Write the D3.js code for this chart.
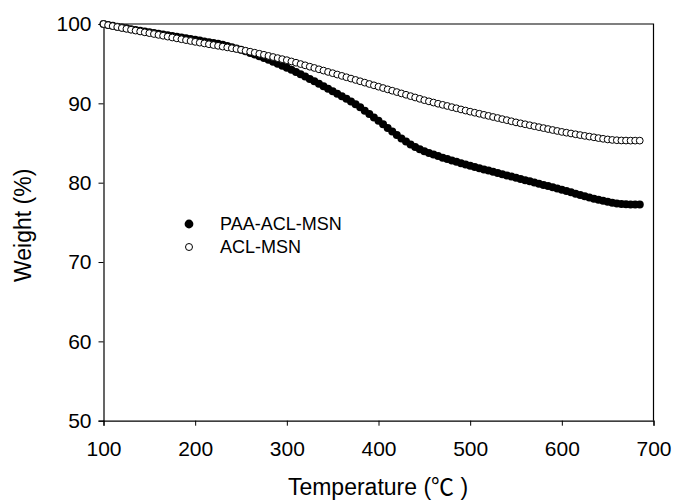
<!DOCTYPE html>
<html>
<head>
<meta charset="utf-8">
<script src="https://cdn.jsdelivr.net/npm/d3@7"></script>
<style>
  body { margin: 0; background: #fff; }
  text { font-family: "Liberation Sans", Arial, "Noto Sans CJK SC", sans-serif; fill: #000; }
</style>
</head>
<body>
<svg id="chart" width="674" height="502"></svg>
<script>
// temperature (°C) readings, every 5 degrees
const temperature = [
  100,105,110,115,120,125,130,135,140,145,150,155,160,165,170,175,180,185,190,195,
  200,205,210,215,220,225,230,235,240,245,250,255,260,265,270,275,280,285,290,295,
  300,305,310,315,320,325,330,335,340,345,350,355,360,365,370,375,380,385,390,395,
  400,405,410,415,420,425,430,435,440,445,450,455,460,465,470,475,480,485,490,495,
  500,505,510,515,520,525,530,535,540,545,550,555,560,565,570,575,580,585,590,595,
  600,605,610,615,620,625,630,635,640,645,650,655,660,665,670,675,680,685
]

// weight (%) of PAA-ACL-MSN (filled)
const paaAclMsn = [
  100.00,99.88,99.77,99.66,99.55,99.45,99.35,99.25,99.15,99.05,98.95,98.86,98.77,98.68,98.59,98.50,98.40,98.30,98.20,98.10,
  98.00,97.91,97.81,97.71,97.61,97.50,97.37,97.22,97.07,96.91,96.75,96.55,96.35,96.15,95.94,95.72,95.49,95.25,95.00,94.74,
  94.48,94.22,93.95,93.66,93.37,93.07,92.77,92.46,92.15,91.84,91.53,91.21,90.89,90.57,90.24,89.90,89.50,89.08,88.66,88.23,
  87.80,87.35,86.90,86.45,86.00,85.58,85.18,84.82,84.50,84.20,83.95,83.74,83.55,83.35,83.15,82.97,82.80,82.63,82.46,82.29,
  82.12,81.97,81.82,81.67,81.52,81.37,81.22,81.07,80.92,80.77,80.62,80.47,80.32,80.17,80.02,79.87,79.72,79.57,79.42,79.27,
  79.12,78.95,78.78,78.61,78.45,78.30,78.14,77.99,77.85,77.72,77.60,77.48,77.38,77.32,77.28,77.26,77.25,77.25
]

// weight (%) of ACL-MSN (open)
const aclMsn = [
  100.00,99.86,99.74,99.62,99.50,99.39,99.28,99.17,99.06,98.95,98.85,98.74,98.63,98.52,98.41,98.30,98.19,98.08,97.97,97.86,
  97.75,97.65,97.55,97.45,97.35,97.25,97.15,97.05,96.95,96.85,96.75,96.63,96.51,96.38,96.25,96.12,95.98,95.84,95.70,95.57,
  95.44,95.28,95.12,94.95,94.79,94.62,94.46,94.29,94.13,93.96,93.80,93.63,93.46,93.29,93.12,92.95,92.78,92.61,92.44,92.27,
  92.10,91.93,91.76,91.59,91.42,91.25,91.08,90.91,90.74,90.57,90.40,90.25,90.10,89.95,89.81,89.67,89.52,89.38,89.23,89.09,
  88.95,88.82,88.69,88.55,88.42,88.28,88.15,88.01,87.88,87.74,87.60,87.48,87.36,87.24,87.12,87.00,86.88,86.76,86.64,86.52,
  86.40,86.30,86.20,86.10,86.00,85.90,85.81,85.72,85.62,85.53,85.45,85.39,85.35,85.32,85.31,85.30,85.30,85.30
]

const seriesNames = ["PAA-ACL-MSN", "ACL-MSN"]
const xTicks = [100, 200, 300, 400, 500, 600, 700]
const yTicks = [50, 60, 70, 80, 90, 100]

const svg = d3.select("#chart")
const plotLeft = 103.5, plotRight = 653.5, plotTop = 24, plotBottom = 420.7

let xScale = d3.scaleLinear().domain([100, 700]).range([plotLeft, plotRight])
let yScale = d3.scaleLinear().domain([50, 100]).range([plotBottom, plotTop])

// frame (top + right)
svg.append("path")
   .attr("d", `M${plotLeft},${plotTop}H${plotRight}V${plotBottom}`)
   .attr("fill", "none").attr("stroke", "#000").attr("stroke-width", 1.2)

// X axis
let x_axis = d3.axisBottom(xScale).tickValues(xTicks).tickSize(5).tickPadding(15).tickFormat(d3.format("d"))
let gx = svg.append("g").attr("transform", `translate(0,${plotBottom})`).call(x_axis)
gx.select(".domain").attr("stroke-width", 1.2)
gx.selectAll("text").style("font-size", "21px")

// Y axis
let y_axis = d3.axisLeft(yScale).tickValues(yTicks).tickSize(5).tickPadding(7).tickFormat(d3.format("d"))
let gy = svg.append("g").attr("transform", `translate(${plotLeft},0)`).call(y_axis)
gy.select(".domain").attr("stroke-width", 1.2)
gy.selectAll("text").style("font-size", "21px")

// markers: filled first, open on top
svg.append("g").selectAll("circle")
   .data(temperature)
   .enter().append("circle")
   .attr("cx", (d) => xScale(d))
   .attr("cy", (d, i) => yScale(paaAclMsn[i]))
   .attr("r", 4)
   .attr("fill", "#000")

svg.append("g").selectAll("circle")
   .data(temperature)
   .enter().append("circle")
   .attr("cx", (d) => xScale(d))
   .attr("cy", (d, i) => yScale(aclMsn[i]))
   .attr("r", 3.4)
   .attr("fill", "#fff")
   .attr("stroke", "#000")
   .attr("stroke-width", 1)

// axis labels
svg.append("text")
   .attr("x", 378).attr("y", 495)
   .attr("text-anchor", "middle")
   .style("font-size", "23px")
   .text("Temperature (℃ )")

svg.append("g")
   .attr("transform", `translate(31,${(plotTop + plotBottom) / 2 + 3}) rotate(270)`)
   .append("text")
   .attr("text-anchor", "middle")
   .style("font-size", "23px")
   .text("Weight (%)")

// legend
seriesNames.forEach(function (name, i) {
    let lgnd = svg.append("g").attr("transform", `translate(189,${224 + i * 23})`)
    if (i === 0) {
        lgnd.append("circle").attr("r", 4.4).attr("fill", "#000")
    } else {
        lgnd.append("circle").attr("r", 3.5).attr("fill", "#fff").attr("stroke", "#000").attr("stroke-width", 1)
    }
    lgnd.append("text").attr("x", 31).attr("y", 6).style("font-size", "18px").text(name)
})
</script>
</body>
</html>
